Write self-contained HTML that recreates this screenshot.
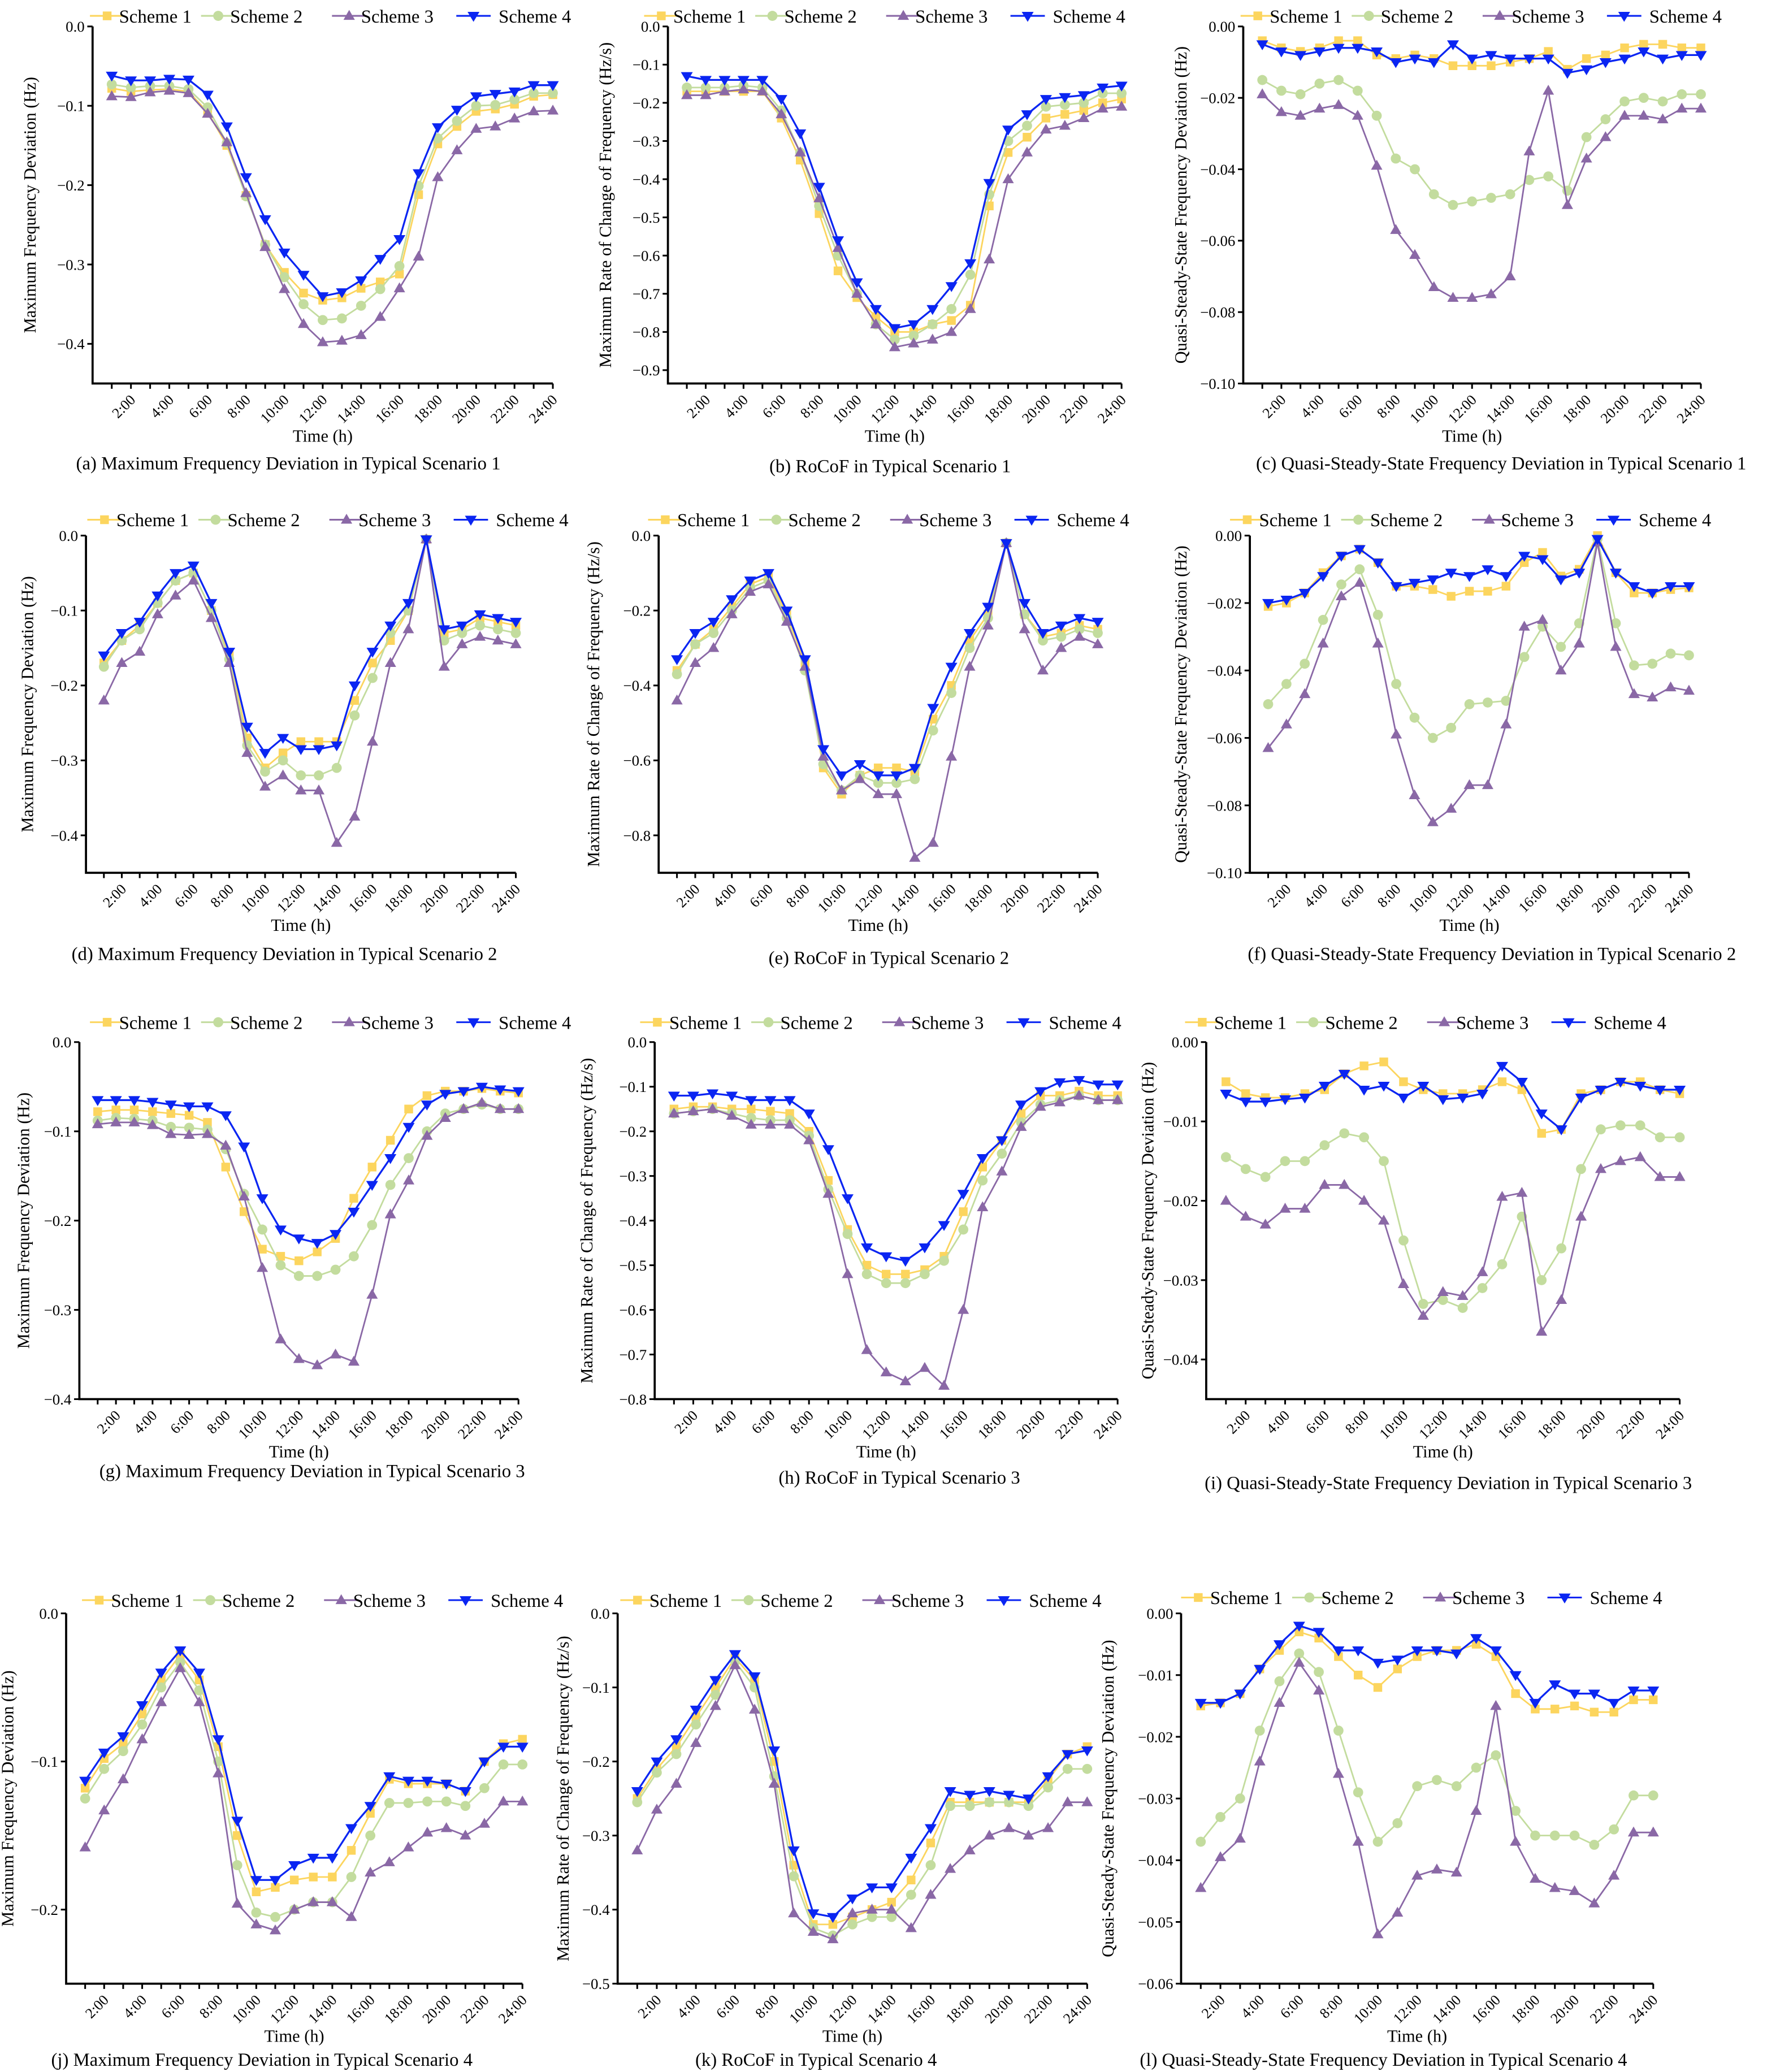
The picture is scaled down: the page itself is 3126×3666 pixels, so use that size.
<!DOCTYPE html>
<html><head><meta charset="utf-8"><title>Frequency Deviation Charts</title>
<style>html,body{margin:0;padding:0;background:#fff}svg{display:block}text{font-family:"Liberation Serif",serif;fill:#000}</style></head>
<body>
<svg id="fig" xmlns="http://www.w3.org/2000/svg" width="3126" height="3666" viewBox="0 0 1336 1566.8">
<rect x="0" y="0" width="1336" height="1566.8" fill="#fff"/>
</svg>
<script>
const hours = [1,2,3,4,5,6,7,8,9,10,11,12,13,14,15,16,17,18,19,20,21,22,23,24];
const xTickLabels = ["2:00","4:00","6:00","8:00","10:00","12:00","14:00","16:00","18:00","20:00","22:00","24:00"];
const seriesNames = ["Scheme 1","Scheme 2","Scheme 3","Scheme 4"];

const aS1=[-0.078,-0.082,-0.080,-0.079,-0.082,-0.108,-0.150,-0.213,-0.275,-0.310,-0.336,-0.345,-0.342,-0.330,-0.322,-0.312,-0.212,-0.148,-0.126,-0.107,-0.104,-0.098,-0.088,-0.086];
const aS2=[-0.073,-0.077,-0.075,-0.075,-0.079,-0.102,-0.147,-0.214,-0.275,-0.316,-0.350,-0.370,-0.368,-0.352,-0.331,-0.302,-0.201,-0.141,-0.119,-0.100,-0.099,-0.092,-0.084,-0.084];
const aS3=[-0.088,-0.089,-0.083,-0.081,-0.084,-0.110,-0.146,-0.210,-0.278,-0.331,-0.375,-0.398,-0.396,-0.389,-0.366,-0.330,-0.290,-0.190,-0.156,-0.129,-0.126,-0.116,-0.107,-0.106];
const aS4=[-0.062,-0.068,-0.068,-0.066,-0.067,-0.086,-0.126,-0.190,-0.243,-0.285,-0.313,-0.340,-0.335,-0.320,-0.293,-0.268,-0.185,-0.127,-0.105,-0.088,-0.085,-0.082,-0.074,-0.074];

const bS1=[-0.17,-0.17,-0.17,-0.17,-0.17,-0.24,-0.35,-0.49,-0.64,-0.71,-0.76,-0.80,-0.80,-0.78,-0.77,-0.73,-0.47,-0.33,-0.29,-0.24,-0.23,-0.22,-0.20,-0.19];
const bS2=[-0.16,-0.16,-0.16,-0.155,-0.16,-0.22,-0.33,-0.47,-0.60,-0.70,-0.78,-0.82,-0.81,-0.78,-0.74,-0.65,-0.44,-0.30,-0.26,-0.21,-0.205,-0.20,-0.175,-0.175];
const bS3=[-0.18,-0.18,-0.17,-0.165,-0.17,-0.23,-0.33,-0.45,-0.58,-0.70,-0.78,-0.84,-0.83,-0.82,-0.80,-0.74,-0.61,-0.40,-0.33,-0.27,-0.26,-0.24,-0.215,-0.21];
const bS4=[-0.13,-0.14,-0.14,-0.14,-0.14,-0.19,-0.28,-0.42,-0.56,-0.67,-0.74,-0.79,-0.78,-0.74,-0.68,-0.62,-0.41,-0.27,-0.23,-0.19,-0.185,-0.18,-0.16,-0.155];

const cS1=[-0.004,-0.006,-0.007,-0.006,-0.004,-0.004,-0.008,-0.009,-0.008,-0.009,-0.011,-0.011,-0.011,-0.010,-0.009,-0.007,-0.012,-0.009,-0.008,-0.006,-0.005,-0.005,-0.006,-0.006];
const cS2=[-0.015,-0.018,-0.019,-0.016,-0.015,-0.018,-0.025,-0.037,-0.040,-0.047,-0.050,-0.049,-0.048,-0.047,-0.043,-0.042,-0.046,-0.031,-0.026,-0.021,-0.020,-0.021,-0.019,-0.019];
const cS3=[-0.019,-0.024,-0.025,-0.023,-0.022,-0.025,-0.039,-0.057,-0.064,-0.073,-0.076,-0.076,-0.075,-0.070,-0.035,-0.018,-0.050,-0.037,-0.031,-0.025,-0.025,-0.026,-0.023,-0.023];
const cS4=[-0.005,-0.007,-0.008,-0.007,-0.006,-0.006,-0.007,-0.010,-0.009,-0.010,-0.005,-0.009,-0.008,-0.009,-0.009,-0.009,-0.013,-0.012,-0.010,-0.009,-0.007,-0.009,-0.008,-0.008];

const dS1=[-0.17,-0.14,-0.12,-0.09,-0.06,-0.05,-0.10,-0.16,-0.27,-0.31,-0.29,-0.275,-0.275,-0.275,-0.22,-0.17,-0.14,-0.10,-0.005,-0.13,-0.125,-0.11,-0.115,-0.12];
const dS2=[-0.175,-0.14,-0.125,-0.09,-0.06,-0.05,-0.10,-0.165,-0.28,-0.315,-0.30,-0.32,-0.32,-0.31,-0.24,-0.19,-0.13,-0.10,-0.005,-0.14,-0.13,-0.12,-0.125,-0.13];
const dS3=[-0.22,-0.17,-0.155,-0.105,-0.08,-0.06,-0.11,-0.17,-0.29,-0.335,-0.32,-0.34,-0.34,-0.41,-0.375,-0.275,-0.17,-0.125,-0.005,-0.175,-0.145,-0.135,-0.14,-0.145];
const dS4=[-0.16,-0.13,-0.115,-0.08,-0.05,-0.04,-0.09,-0.155,-0.255,-0.29,-0.27,-0.285,-0.285,-0.28,-0.20,-0.155,-0.12,-0.09,-0.005,-0.125,-0.12,-0.105,-0.11,-0.115];

const eS1=[-0.36,-0.29,-0.25,-0.19,-0.13,-0.11,-0.21,-0.34,-0.62,-0.69,-0.64,-0.62,-0.62,-0.63,-0.49,-0.40,-0.28,-0.21,-0.02,-0.21,-0.27,-0.26,-0.24,-0.25];
const eS2=[-0.37,-0.29,-0.26,-0.20,-0.14,-0.12,-0.22,-0.36,-0.61,-0.68,-0.64,-0.66,-0.66,-0.65,-0.52,-0.42,-0.30,-0.22,-0.02,-0.21,-0.28,-0.27,-0.25,-0.26];
const eS3=[-0.44,-0.34,-0.30,-0.21,-0.15,-0.13,-0.23,-0.35,-0.59,-0.68,-0.65,-0.69,-0.69,-0.86,-0.82,-0.59,-0.35,-0.24,-0.02,-0.25,-0.36,-0.30,-0.27,-0.29];
const eS4=[-0.33,-0.26,-0.23,-0.17,-0.12,-0.10,-0.20,-0.33,-0.57,-0.64,-0.61,-0.64,-0.64,-0.62,-0.46,-0.35,-0.26,-0.19,-0.02,-0.18,-0.26,-0.24,-0.22,-0.23];

const fS1=[-0.021,-0.020,-0.017,-0.011,-0.006,-0.004,-0.008,-0.015,-0.015,-0.016,-0.018,-0.0165,-0.0165,-0.015,-0.008,-0.005,-0.012,-0.010,0,-0.011,-0.017,-0.017,-0.016,-0.0155];
const fS2=[-0.050,-0.044,-0.038,-0.025,-0.0145,-0.010,-0.0235,-0.044,-0.054,-0.060,-0.057,-0.050,-0.0495,-0.049,-0.036,-0.027,-0.033,-0.026,-0.001,-0.026,-0.0385,-0.038,-0.035,-0.0355];
const fS3=[-0.063,-0.056,-0.047,-0.032,-0.018,-0.014,-0.032,-0.059,-0.077,-0.085,-0.081,-0.074,-0.074,-0.056,-0.027,-0.025,-0.040,-0.032,-0.002,-0.033,-0.047,-0.048,-0.045,-0.046];
const fS4=[-0.020,-0.019,-0.017,-0.012,-0.006,-0.004,-0.008,-0.015,-0.014,-0.013,-0.011,-0.012,-0.010,-0.012,-0.006,-0.007,-0.013,-0.011,-0.001,-0.011,-0.015,-0.017,-0.015,-0.015];

const gS1=[-0.078,-0.076,-0.076,-0.078,-0.08,-0.082,-0.09,-0.14,-0.19,-0.232,-0.24,-0.245,-0.235,-0.22,-0.175,-0.14,-0.11,-0.075,-0.06,-0.055,-0.055,-0.052,-0.055,-0.057];
const gS2=[-0.088,-0.085,-0.086,-0.088,-0.095,-0.096,-0.098,-0.12,-0.17,-0.21,-0.25,-0.262,-0.262,-0.255,-0.24,-0.205,-0.16,-0.13,-0.10,-0.08,-0.075,-0.07,-0.075,-0.075];
const gS3=[-0.092,-0.09,-0.09,-0.093,-0.103,-0.104,-0.103,-0.116,-0.173,-0.253,-0.333,-0.355,-0.362,-0.35,-0.358,-0.283,-0.193,-0.155,-0.105,-0.085,-0.075,-0.068,-0.075,-0.075];
const gS4=[-0.065,-0.065,-0.065,-0.067,-0.07,-0.072,-0.072,-0.082,-0.117,-0.175,-0.21,-0.22,-0.225,-0.215,-0.19,-0.16,-0.13,-0.095,-0.07,-0.058,-0.055,-0.05,-0.053,-0.055];

const hS1=[-0.15,-0.145,-0.145,-0.15,-0.15,-0.155,-0.16,-0.20,-0.31,-0.42,-0.50,-0.52,-0.52,-0.51,-0.48,-0.38,-0.28,-0.22,-0.16,-0.12,-0.12,-0.11,-0.12,-0.12];
const hS2=[-0.16,-0.155,-0.15,-0.16,-0.17,-0.175,-0.175,-0.21,-0.33,-0.43,-0.52,-0.54,-0.54,-0.52,-0.49,-0.42,-0.31,-0.25,-0.18,-0.14,-0.13,-0.12,-0.13,-0.13];
const hS3=[-0.16,-0.155,-0.15,-0.165,-0.185,-0.185,-0.185,-0.22,-0.34,-0.52,-0.69,-0.74,-0.76,-0.73,-0.77,-0.60,-0.37,-0.29,-0.19,-0.145,-0.135,-0.12,-0.13,-0.13];
const hS4=[-0.12,-0.12,-0.115,-0.12,-0.13,-0.13,-0.13,-0.16,-0.24,-0.35,-0.46,-0.48,-0.49,-0.46,-0.41,-0.34,-0.26,-0.22,-0.14,-0.11,-0.09,-0.085,-0.095,-0.095];

const iS1=[-0.005,-0.0065,-0.007,-0.007,-0.0065,-0.006,-0.004,-0.003,-0.0025,-0.005,-0.006,-0.0065,-0.0065,-0.006,-0.005,-0.006,-0.0115,-0.011,-0.0065,-0.006,-0.005,-0.005,-0.006,-0.0065];
const iS2=[-0.0145,-0.016,-0.017,-0.015,-0.015,-0.013,-0.0115,-0.012,-0.015,-0.025,-0.033,-0.0325,-0.0335,-0.031,-0.028,-0.022,-0.030,-0.026,-0.016,-0.011,-0.0105,-0.0105,-0.012,-0.012];
const iS3=[-0.020,-0.022,-0.023,-0.021,-0.021,-0.018,-0.018,-0.020,-0.0225,-0.0305,-0.0345,-0.0315,-0.032,-0.029,-0.0195,-0.019,-0.0365,-0.0325,-0.022,-0.016,-0.015,-0.0145,-0.017,-0.017];
const iS4=[-0.0065,-0.0075,-0.0075,-0.0072,-0.007,-0.0055,-0.004,-0.006,-0.0055,-0.007,-0.0055,-0.0072,-0.007,-0.0065,-0.003,-0.005,-0.009,-0.011,-0.007,-0.006,-0.005,-0.0055,-0.006,-0.006];

const jS1=[-0.118,-0.098,-0.088,-0.068,-0.045,-0.028,-0.045,-0.09,-0.15,-0.188,-0.185,-0.18,-0.178,-0.178,-0.16,-0.135,-0.112,-0.115,-0.115,-0.115,-0.12,-0.1,-0.088,-0.085];
const jS2=[-0.125,-0.105,-0.093,-0.075,-0.05,-0.033,-0.052,-0.1,-0.17,-0.202,-0.205,-0.2,-0.195,-0.195,-0.178,-0.15,-0.128,-0.128,-0.127,-0.127,-0.13,-0.118,-0.102,-0.102];
const jS3=[-0.158,-0.133,-0.112,-0.085,-0.06,-0.037,-0.06,-0.108,-0.196,-0.21,-0.214,-0.2,-0.195,-0.195,-0.205,-0.175,-0.168,-0.158,-0.148,-0.145,-0.15,-0.142,-0.127,-0.127];
const jS4=[-0.113,-0.094,-0.083,-0.062,-0.04,-0.025,-0.04,-0.085,-0.14,-0.18,-0.18,-0.17,-0.165,-0.165,-0.145,-0.13,-0.11,-0.113,-0.113,-0.115,-0.12,-0.1,-0.09,-0.09];

const kS1=[-0.25,-0.21,-0.18,-0.14,-0.1,-0.06,-0.09,-0.2,-0.34,-0.42,-0.42,-0.41,-0.4,-0.39,-0.36,-0.31,-0.255,-0.255,-0.255,-0.255,-0.255,-0.225,-0.19,-0.18];
const kS2=[-0.255,-0.215,-0.19,-0.15,-0.11,-0.065,-0.1,-0.22,-0.355,-0.425,-0.435,-0.42,-0.41,-0.41,-0.38,-0.34,-0.26,-0.26,-0.255,-0.255,-0.26,-0.235,-0.21,-0.21];
const kS3=[-0.32,-0.265,-0.23,-0.175,-0.125,-0.07,-0.13,-0.23,-0.405,-0.43,-0.44,-0.405,-0.4,-0.4,-0.425,-0.38,-0.345,-0.32,-0.3,-0.29,-0.3,-0.29,-0.255,-0.255];
const kS4=[-0.24,-0.2,-0.17,-0.13,-0.09,-0.055,-0.085,-0.185,-0.32,-0.405,-0.41,-0.385,-0.37,-0.37,-0.33,-0.29,-0.24,-0.245,-0.24,-0.245,-0.25,-0.22,-0.19,-0.185];

const lS1=[-0.015,-0.0145,-0.013,-0.009,-0.006,-0.003,-0.004,-0.007,-0.01,-0.012,-0.009,-0.007,-0.006,-0.006,-0.005,-0.007,-0.013,-0.0155,-0.0155,-0.015,-0.016,-0.016,-0.014,-0.014];
const lS2=[-0.037,-0.033,-0.03,-0.019,-0.011,-0.0065,-0.0095,-0.019,-0.029,-0.037,-0.034,-0.028,-0.027,-0.028,-0.025,-0.023,-0.032,-0.036,-0.036,-0.036,-0.0375,-0.035,-0.0295,-0.0295];
const lS3=[-0.0445,-0.0395,-0.0365,-0.024,-0.0145,-0.008,-0.0125,-0.026,-0.037,-0.052,-0.0485,-0.0425,-0.0415,-0.042,-0.032,-0.015,-0.037,-0.043,-0.0445,-0.045,-0.047,-0.0425,-0.0355,-0.0355];
const lS4=[-0.0145,-0.0145,-0.013,-0.009,-0.005,-0.002,-0.003,-0.006,-0.006,-0.008,-0.0075,-0.006,-0.006,-0.0065,-0.004,-0.006,-0.01,-0.0145,-0.0115,-0.013,-0.013,-0.0145,-0.0125,-0.0125];

const yTicksA=[0,-0.1,-0.2,-0.3,-0.4];
const yTicksB=[0,-0.1,-0.2,-0.3,-0.4,-0.5,-0.6,-0.7,-0.8,-0.9];
const yTicksC=[0,-0.02,-0.04,-0.06,-0.08,-0.1];
const yTicksE=[0,-0.2,-0.4,-0.6,-0.8];
const yTicksH=[0,-0.1,-0.2,-0.3,-0.4,-0.5,-0.6,-0.7,-0.8];
const yTicksI=[0,-0.01,-0.02,-0.03,-0.04];
const yTicksJ=[0,-0.1,-0.2];
const yTicksK=[0,-0.1,-0.2,-0.3,-0.4,-0.5];
const yTicksL=[0,-0.01,-0.02,-0.03,-0.04,-0.05,-0.06];

const MFD="Maximum Frequency Deviation (Hz)", RCF="Maximum Rate of Change of Frequency (Hz/s)", QSS="Quasi-Steady-State Frequency Deviation (Hz)";
const panels=[
 {id:"a",s:[aS1,aS2,aS3,aS4],yt:yTicksA,dec:1,ymin:-0.45,x0:70,x1:418,yt0:20,yb:290,ylab:MFD,yl:27,cap:"(a) Maximum Frequency Deviation in Typical Scenario 1",cx:218,cy:355,leg:68,ly:12},
 {id:"b",s:[bS1,bS2,bS3,bS4],yt:yTicksB,dec:1,ymin:-0.935,x0:505,x1:848,yt0:20,yb:290,ylab:RCF,yl:462,cap:"(b) RoCoF in Typical Scenario 1",cx:673,cy:357,leg:487,ly:12},
 {id:"c",s:[cS1,cS2,cS3,cS4],yt:yTicksC,dec:2,ymin:-0.1,x0:940,x1:1286,yt0:20,yb:290,ylab:QSS,yl:897,cap:"(c) Quasi-Steady-State Frequency Deviation in Typical Scenario 1",cx:1135,cy:355,leg:938,ly:12},
 {id:"d",s:[dS1,dS2,dS3,dS4],yt:yTicksA,dec:1,ymin:-0.45,x0:65,x1:390,yt0:405,yb:660,ylab:MFD,yl:25,cap:"(d) Maximum Frequency Deviation in Typical Scenario 2",cx:215,cy:726,leg:66,ly:393},
 {id:"e",s:[eS1,eS2,eS3,eS4],yt:yTicksE,dec:1,ymin:-0.9,x0:498,x1:830,yt0:405,yb:660,ylab:RCF,yl:453,cap:"(e) RoCoF in Typical Scenario 2",cx:672,cy:729,leg:490,ly:393},
 {id:"f",s:[fS1,fS2,fS3,fS4],yt:yTicksC,dec:2,ymin:-0.1,x0:945,x1:1277,yt0:405,yb:660,ylab:QSS,yl:897,cap:"(f) Quasi-Steady-State Frequency Deviation in Typical Scenario 2",cx:1128,cy:726,leg:930,ly:393},
 {id:"g",s:[gS1,gS2,gS3,gS4],yt:yTicksA,dec:1,ymin:-0.4,x0:60,x1:392,yt0:788,yb:1058,ylab:MFD,yl:22,cap:"(g) Maximum Frequency Deviation in Typical Scenario 3",cx:236,cy:1117,leg:68,ly:773},
 {id:"h",s:[hS1,hS2,hS3,hS4],yt:yTicksH,dec:1,ymin:-0.8,x0:495,x1:845,yt0:788,yb:1058,ylab:RCF,yl:448,cap:"(h) RoCoF in Typical Scenario 3",cx:680,cy:1122,leg:484,ly:773},
 {id:"i",s:[iS1,iS2,iS3,iS4],yt:yTicksI,dec:2,ymin:-0.045,x0:912,x1:1270,yt0:788,yb:1058,ylab:QSS,yl:872,cap:"(i) Quasi-Steady-State Frequency Deviation in Typical Scenario 3",cx:1095,cy:1126,leg:896,ly:773},
 {id:"j",s:[jS1,jS2,jS3,jS4],yt:yTicksJ,dec:1,ymin:-0.25,x0:50,x1:395,yt0:1220,yb:1500,ylab:MFD,yl:10,cap:"(j) Maximum Frequency Deviation in Typical Scenario 4",cx:198,cy:1562,leg:62,ly:1210},
 {id:"k",s:[kS1,kS2,kS3,kS4],yt:yTicksK,dec:1,ymin:-0.5,x0:467,x1:822,yt0:1220,yb:1500,ylab:RCF,yl:430,cap:"(k) RoCoF in Typical Scenario 4",cx:617,cy:1562,leg:469,ly:1210},
 {id:"l",s:[lS1,lS2,lS3,lS4],yt:yTicksL,dec:2,ymin:-0.06,x0:893,x1:1250,yt0:1220,yb:1500,ylab:QSS,yl:842,cap:"(l) Quasi-Steady-State Frequency Deviation in Typical Scenario 4",cx:1046,cy:1562,leg:893,ly:1208}
];
const colors=["#fcd55e","#c3dc9e","#8a68a6","#0a25f2"];
const lineW=[1.2,1.2,1.2,1.4];
const NS="http://www.w3.org/2000/svg";
const svg=document.getElementById("fig");
function mk(tag,attrs,parent){const e=document.createElementNS(NS,tag);for(const k in attrs)e.setAttribute(k,attrs[k]);(parent||svg).appendChild(e);return e;}
function fmt(v,d){if(v===0)return d===1?"0.0":"0.00";return "\u2212"+Math.abs(v).toFixed(d);}
function marker(g,k,x,y){
  const c=colors[k];let m;
  if(k===0){m=mk("rect",{x:x-3.3,y:y-3.3,width:6.6,height:6.6,fill:c},g);}
  else if(k===1){m=mk("circle",{cx:x,cy:y,r:3.8,fill:c},g);}
  else if(k===2){m=mk("polygon",{points:`${x},${y-4.5} ${x-4.3},${y+3} ${x+4.3},${y+3}`,fill:c},g);}
  else {m=mk("polygon",{points:`${x},${y+4.5} ${x-4.5},${y-3} ${x+4.5},${y-3}`,fill:c},g);}
  
  
}
panels.forEach(p=>{
  const g=mk("g",{});
  
  
  const xs=h=>p.x0+(h/24)*(p.x1-p.x0);
  const ys=v=>p.yt0+(v/p.ymin)*(p.yb-p.yt0);
  // axes
  const ax=mk("path",{d:`M${p.x0},${p.yt0} V${p.yb} H${p.x1}`,stroke:"#000","stroke-width":1.6,fill:"none"},g);
  
  
  p.yt.forEach(v=>{
    const y=ys(v);
    mk("line",{x1:p.x0-4,x2:p.x0,y1:y,y2:y,stroke:"#000","stroke-width":1.3},g);
    const t=mk("text",{x:p.x0-6,y:y+4,"font-size":11.5,"text-anchor":"end"},g);
    t.textContent=fmt(v,p.dec);
    
    
  });
  hours.forEach(h=>{const x=xs(h);mk("line",{x1:x,x2:x,y1:p.yb,y2:p.yb+4,stroke:"#000","stroke-width":1.3},g);});
  xTickLabels.forEach((lab,i)=>{
    const x=xs((i+1)*2);const y=p.yb+9;
    const t=mk("text",{x:x+4,y:y+4,"font-size":11,"text-anchor":"end",transform:`rotate(-45 ${x+4} ${y+4})`},g);
    t.textContent=lab;
    
    
  });
  const xt=mk("text",{x:(p.x0+p.x1)/2,y:p.yb+44,"font-size":13,"text-anchor":"middle"},g);
  xt.textContent="Time (h)";
  
  
  const ym=(p.yt0+p.yb)/2;
  const yt=mk("text",{x:p.yl,y:ym,"font-size":13,"text-anchor":"middle",transform:`rotate(-90 ${p.yl} ${ym})`},g);
  yt.textContent=p.ylab;
  
  
  const cp=mk("text",{x:p.cx,y:p.cy,"font-size":14,"text-anchor":"middle"},g);
  cp.textContent=p.cap;
  
  
  // series
  p.s.forEach((arr,k)=>{
    const sg=mk("g",{},g);
    
    
    const pts=arr.map((v,i)=>xs(hours[i]).toFixed(2)+","+ys(v).toFixed(2)).join(" ");
    const pl=mk("polyline",{points:pts,fill:"none",stroke:colors[k],"stroke-width":lineW[k]},sg);
    
    
    arr.forEach((v,i)=>marker(sg,k,xs(hours[i]),ys(v)));
  });
  // legend
  const offs=[0,84,183,277];
  const lg=mk("g",{},g);
  
  
  seriesNames.forEach((n,k)=>{
    const lx=p.leg+offs[k];
    const le=mk("g",{},lg);
    
    
    mk("line",{x1:lx,x2:lx+26,y1:p.ly,y2:p.ly,stroke:colors[k],"stroke-width":1.3},le);
    marker(le,k,lx+13,p.ly);
    const t=mk("text",{x:lx+(k===3?32:22),y:p.ly+5,"font-size":14},le);
    t.textContent=n;
  });
});
</script>
</body></html>
